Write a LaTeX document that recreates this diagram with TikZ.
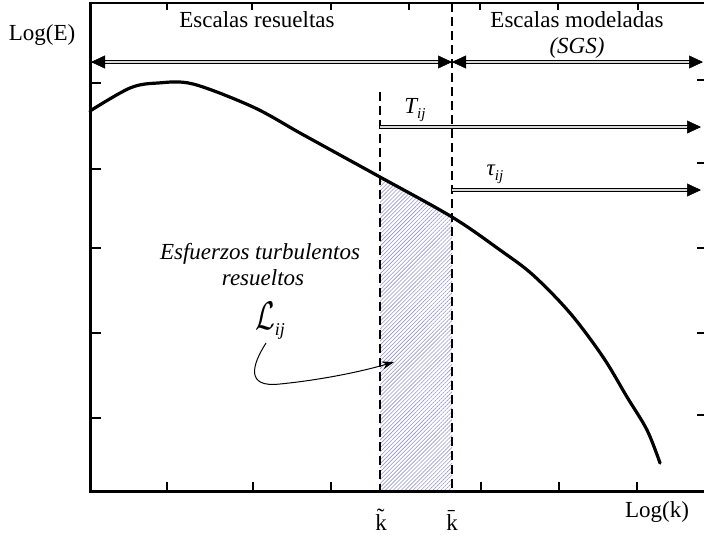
\documentclass[tikz,border=0pt]{standalone}
\usepackage{fontspec}
\setmainfont{Liberation Serif}
\usepackage{graphicx}
\usetikzlibrary{arrows.meta,patterns.meta,calc}
\definecolor{hatchc}{RGB}{150,150,205}
\begin{document}
\begin{tikzpicture}[x=1pt,y=-1pt,
  txt/.style={font=\fontsize{23}{26}\selectfont, inner sep=0pt},
  itxt/.style={font=\fontsize{23}{26}\selectfont\itshape, inner sep=0pt},
  axisline/.style={line width=3pt},
  topline/.style={line width=2pt},
  tickmark/.style={line width=1.2pt},
  dashv/.style={line width=2pt, dash pattern=on 9pt off 5pt},
  dbl/.style={double=gray!30, double distance=1.6pt, line width=0.9pt},
  tipmark/.style={-{Triangle[length=14pt,width=13pt]}, line width=0.5pt},
  spectrum/.style={line width=3.2pt, line join=round, line cap=round},
  hatch/.style={pattern={Lines[angle=45,distance=2.8pt,line width=0.6pt]}, pattern color=hatchc},
  pointer/.style={line width=1pt, -{Stealth[length=12pt,width=8pt]}},
]
\useasboundingbox (0,0) rectangle (704,539);
\clip (0,0) rectangle (704,539);

% hatched region under the curve
\begin{scope}
  \clip plot[smooth, tension=0.55] coordinates {(90,111) (130,88) (158,83) (193,84) (253,107) (300,133) (340,155) (380,177) (452,217) (500,250) (533,275) (570,313) (603,357) (627,397) (647,430) (660,463)} -- (660,491) -- (90,491) -- cycle;
  \fill[white] (380,0) rectangle (452,491);
  \path[hatch] (380,0) rectangle (452,491);
\end{scope}

% frame
\draw[topline] (90,3) -- (712,3);
\draw[axisline] (90,2) -- (90,491) -- (712,491);
\draw[axisline] (708,3) -- (708,491);

% ticks
\foreach \x in {167,252,331,409,480,558,638} \draw[tickmark] (\x,3) -- (\x,10);
\foreach \x in {167,253,331,481,559,637} \draw[tickmark] (\x,491) -- (\x,482);
\foreach \y in {83,169,248,333,418} \draw[tickmark] (90,\y) -- (101,\y);
\foreach \y in {80,163,248,333,415} \draw[tickmark] (708,\y) -- (697,\y);

% cut-off lines
\coordinate (kbtop) at (452,3);
\coordinate (kbbot) at (452,491);
\coordinate (kttop) at (380,92);
\coordinate (ktbot) at (380,491);
\draw[dashv] (kbtop) -- (kbbot);
\draw[dashv] (kttop) -- (ktbot);

% spectrum
\draw[spectrum] plot[smooth, tension=0.55] coordinates {(90,111) (130,88) (158,83) (193,84) (253,107) (300,133) (340,155) (380,177) (452,217) (500,250) (533,275) (570,313) (603,357) (627,397) (647,430) (660,463)};

% range arrows
\coordinate (aL) at (91,62);
\coordinate (aM) at (452,62);
\coordinate (aR) at (703,62);
\draw[dbl, shorten <=8pt, shorten >=8pt] (aL) -- (aM);
\draw[dbl, shorten <=8pt, shorten >=8pt] (aM) -- (aR);
\draw[tipmark] ($(aL)+(1,0)$) -- (aL);
\draw[tipmark] ($(aM)+(-1,0)$) -- (aM);
\draw[tipmark] ($(aM)+(1,0)$) -- (aM);
\draw[tipmark] ($(aR)+(-1,0)$) -- (aR);

\coordinate (tS) at (380,127);
\coordinate (tE) at (701,127);
\draw[dbl, shorten >=8pt] (tS) -- (tE);
\draw[tipmark] ($(tE)+(-1,0)$) -- (tE);

\coordinate (sS) at (452,190);
\coordinate (sE) at (701,190);
\draw[dbl, shorten >=8pt] (sS) -- (sE);
\draw[tipmark] ($(sE)+(-1,0)$) -- (sE);

% texts
\node[txt, anchor=base] (er) at (257,27) {Escalas resueltas};
\node[txt, anchor=base] (em) at (577,27) {Escalas modeladas};
\node[itxt, anchor=base] (sgs) at (577,53) {(SGS)};
\node[txt, anchor=base] (logE) at (42,40) {Log(E)};
\node[txt, anchor=base] (logk) at (657,517) {Log(k)};
\node[txt, anchor=base] (kt) at (381,530) {\~{k}};
\node[txt, anchor=base] (kb) at (452,530) {\={k}};
\node[itxt, anchor=base] (T) at (415,113) {T\raisebox{-5pt}{\fontsize{15}{15}\selectfont ij}};
\node[itxt, anchor=base] (tau) at (495,175) {τ\raisebox{-5pt}{\fontsize{15}{15}\selectfont ij}};
\node[itxt, anchor=base] (esf) at (260,259) {Esfuerzos turbulentos};
\node[itxt, anchor=base] (res) at (263,285) {resueltos};
\node[inner sep=0pt, anchor=base west] (L) at (255,329) {\scalebox{1.15}[1.6]{\fontsize{24.88}{26}\selectfont$\mathcal{L}$}\raisebox{-6pt}{\fontsize{18}{18}\selectfont\itshape ij}};

% pointer
\coordinate (ls) at (266,343);
\coordinate (lt) at (394,362);
\draw[pointer] (ls) .. controls (252,365) and (245,388) .. (280,384) .. controls (320,380) and (360,372) .. (lt);
\end{tikzpicture}
\end{document}
